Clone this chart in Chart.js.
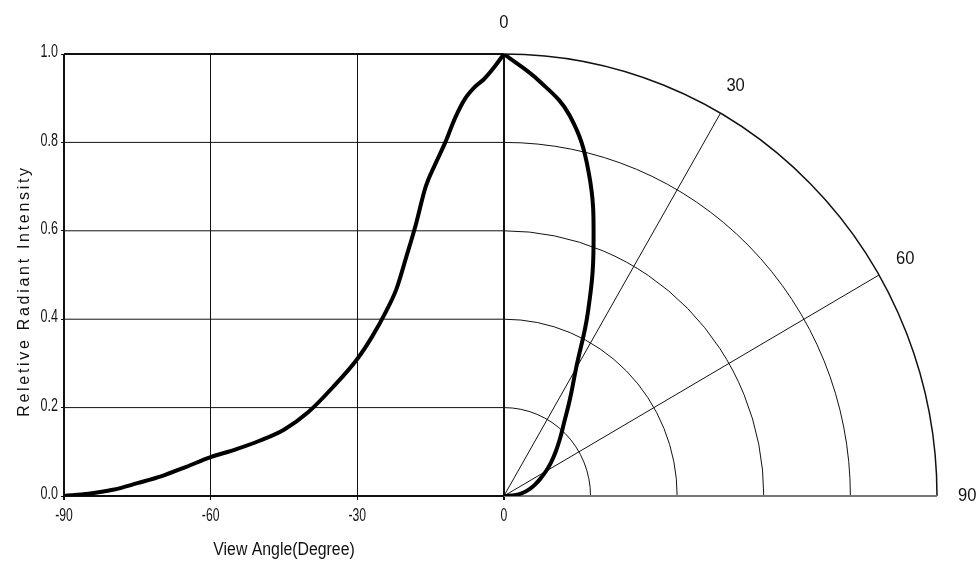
<!DOCTYPE html>
<html>
<head>
<meta charset="utf-8">
<script src="https://cdn.jsdelivr.net/npm/chart.js@4/dist/chart.umd.min.js"></script>
<style>
  html, body { margin: 0; padding: 0; background: #fff; }
  #wrap { width: 980px; height: 567px; }
</style>
</head>
<body>
<div id="wrap"><canvas id="chart" width="980" height="567"></canvas></div>
<script>
// Cartesian part: view angle (deg) vs relative radiant intensity
const angles = [-90, -85, -80, -75, -70, -65, -60, -55, -50, -45, -40, -35, -30, -27, -24, -22, -20, -18, -16, -14, -12, -10, -8, -6, -4, -2, 0];
const intensity = [0, 0.005, 0.014, 0.029, 0.045, 0.066, 0.088, 0.105, 0.125, 0.150, 0.190, 0.246, 0.310, 0.360, 0.420, 0.468, 0.540, 0.615, 0.700, 0.752, 0.800, 0.855, 0.898, 0.925, 0.944, 0.970, 1.0];

// Polar part: angle from the axis (deg) and radius (relative intensity)
const polarAngles = [0, 5, 10, 15, 20, 25, 30, 35, 40, 45, 50, 55, 60, 65, 70, 75, 80, 85, 90];
const polarIntensity = [1.0, 0.942, 0.874, 0.757, 0.605, 0.459, 0.333, 0.265, 0.216, 0.183, 0.156, 0.133, 0.112, 0.093, 0.077, 0.062, 0.046, 0.028, 0];

const xTicks = [-90, -60, -30, 0];
const yTicks = [0, 0.2, 0.4, 0.6, 0.8, 1.0];
const ringValues = [0.2, 0.4, 0.6, 0.8, 1.0];
const spokeAngles = [30, 60];
const polarLabels = ['0', '30', '60', '90'];
const polarLabelAngles = [0, 30, 60, 90];

// x value that a polar radius of 1.0 reaches on the right side
const POLAR_X = 88.6;

const toRad = d => d * Math.PI / 180;
const polarPoints = polarAngles.map((a, i) => ({
  x: polarIntensity[i] * Math.sin(toRad(a)) * POLAR_X,
  y: polarIntensity[i] * Math.cos(toRad(a))
}));
const cartPoints = angles.map((a, i) => ({ x: a, y: intensity[i] }));

const SANS = '"Liberation Sans", Arial, sans-serif';

// text squeezed sideways like the scanned original
function squeezed(ctx, text, x, y, sx) {
  ctx.save();
  ctx.translate(x, y);
  ctx.scale(sx, 1);
  ctx.fillText(text, 0, 0);
  ctx.restore();
}

// grid, polar frame and free labels
const polarGrid = {
  id: 'polarGrid',
  beforeDatasetsDraw(chart) {
    const { ctx, scales: { x, y } } = chart;
    const cx = x.getPixelForValue(0);
    const cy = y.getPixelForValue(0);
    const rx = x.getPixelForValue(POLAR_X) - cx;
    const ry = cy - y.getPixelForValue(1);
    const left = x.getPixelForValue(-90);
    ctx.save();

    // horizontal grid of the left box
    yTicks.forEach(v => {
      if (v === 0) return;
      const py = y.getPixelForValue(v);
      ctx.beginPath();
      ctx.lineWidth = v === 1 ? 2 : 1;
      ctx.strokeStyle = '#111';
      ctx.moveTo(left, py);
      ctx.lineTo(cx, py);
      ctx.stroke();
    });

    // rings
    ringValues.forEach(r => {
      ctx.beginPath();
      ctx.lineWidth = r === 1 ? 1.5 : 1;
      ctx.strokeStyle = '#111';
      ctx.ellipse(cx, cy, rx * r, ry * r, 0, -Math.PI / 2, 0);
      ctx.stroke();
    });

    // spokes
    spokeAngles.forEach(a => {
      ctx.beginPath();
      ctx.lineWidth = 1;
      ctx.strokeStyle = '#111';
      ctx.moveTo(cx, cy);
      ctx.lineTo(cx + rx * Math.sin(toRad(a)), cy - ry * Math.cos(toRad(a)));
      ctx.stroke();
    });

    // base line
    ctx.beginPath();
    ctx.lineWidth = 2;
    ctx.strokeStyle = '#777';
    ctx.moveTo(cx, cy);
    ctx.lineTo(cx + rx, cy);
    ctx.stroke();
    ctx.beginPath();
    ctx.strokeStyle = '#111';
    ctx.moveTo(left - 1, cy);
    ctx.lineTo(cx, cy);
    ctx.stroke();

    ctx.fillStyle = '#111';
    ctx.textBaseline = 'middle';

    // tick labels, placed by the scales
    ctx.font = '19px ' + SANS;
    ctx.textAlign = 'right';
    y.ticks.forEach(t => {
      squeezed(ctx, t.value.toFixed(1), left - 6, y.getPixelForValue(t.value) - 2, 0.66);
    });
    ctx.textAlign = 'center';
    x.ticks.forEach(t => {
      squeezed(ctx, String(t.value), x.getPixelForValue(t.value), cy + 20, 0.64);
    });

    // angle labels round the quarter circle
    ctx.font = '18px ' + SANS;
    polarLabels.forEach((t, i) => {
      const a = toRad(polarLabelAngles[i]);
      squeezed(ctx, t, cx + rx * 1.07 * Math.sin(a), cy - ry * 1.07 * Math.cos(a), 0.92);
    });

    // axis titles
    squeezed(ctx, 'View Angle(Degree)', 284, 550, 0.88);

    ctx.translate(25, 291);
    ctx.rotate(-Math.PI / 2);
    ctx.font = '16px ' + SANS;
    ctx.letterSpacing = '2.7px';
    ctx.fillText('Reletive Radiant Intensity', 0, 0);
    ctx.restore();
  }
};

new Chart(document.getElementById('chart'), {
  type: 'scatter',
  data: {
    datasets: [
      {
        label: 'Relative intensity',
        data: cartPoints,
        showLine: true,
        borderColor: '#000',
        borderWidth: 4,
        pointRadius: 0,
        cubicInterpolationMode: 'monotone'
      },
      {
        label: 'Polar pattern',
        data: polarPoints,
        showLine: true,
        borderColor: '#000',
        borderWidth: 4,
        pointRadius: 0,
        tension: 0.4
      }
    ]
  },
  options: {
    responsive: false,
    animation: false,
    layout: { padding: { left: 0, right: 43, top: 54, bottom: 0 } },
    plugins: {
      legend: { display: false },
      tooltip: { enabled: false }
    },
    scales: {
      x: {
        type: 'linear',
        min: -90,
        max: POLAR_X,
        afterBuildTicks: s => { s.ticks = xTicks.map(v => ({ value: v })); },
        afterFit: s => { s.height = 71; },
        border: { display: false },
        grid: {
          color: '#111',
          lineWidth: c => (c.tick && (c.tick.value === -90 || c.tick.value === 0)) ? 2 : 1,
          tickLength: 4
        },
        ticks: { display: false }
      },
      y: {
        min: 0,
        max: 1,
        afterBuildTicks: s => { s.ticks = yTicks.map(v => ({ value: v })); },
        afterFit: s => { s.width = 64; },
        border: { display: false },
        grid: { drawOnChartArea: false, color: '#111', tickLength: 3 },
        ticks: { display: false }
      }
    }
  },
  plugins: [polarGrid]
});
</script>
</body>
</html>
